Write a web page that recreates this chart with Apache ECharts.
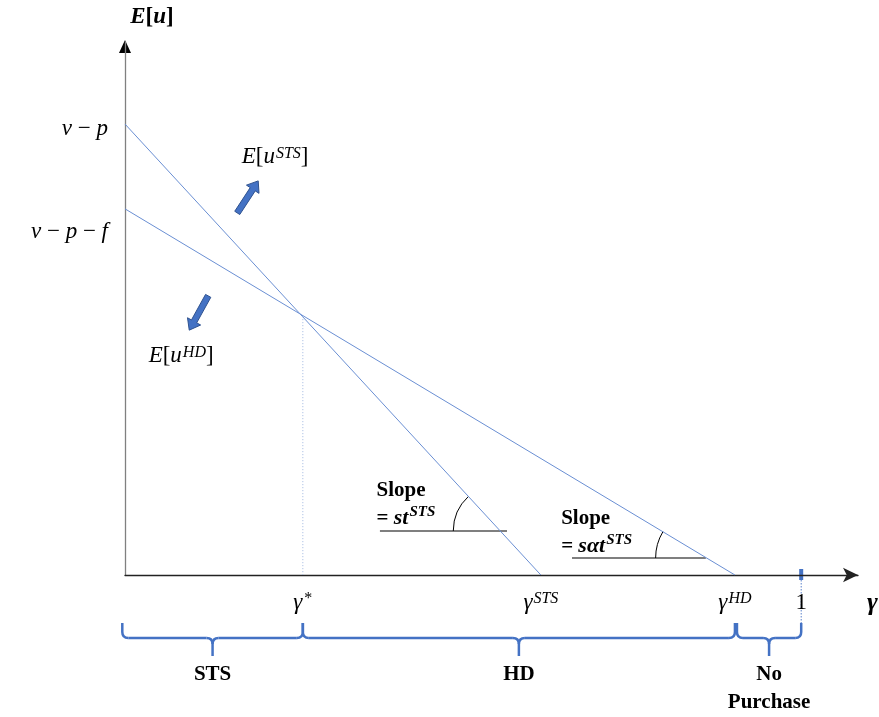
<!DOCTYPE html>
<html><head><meta charset="utf-8">
<script src="https://cdn.jsdelivr.net/npm/echarts@6/dist/echarts.min.js"></script>
<style>html,body{margin:0;padding:0;background:#fff}#c{width:879px;height:717px}</style>
</head><body><div id="c"></div>
<script>
// ---- data (gamma on x, expected utility on y; v-p normalised to 1) ----
const xTickValues = [0.263, 0.615, 0.902, 1];
const xTickLabels = ['{i|γ}{sn|*}', '{i|γ}{s|STS}', '{i|γ}{s|HD}', '{n|1}'];
const yTickValues = [0.812, 1];
const yTickLabels = ['{il|v}{nl| − }{il|p}{nl| − }{il|f}', '{iu|v}{nu| − }{iu|p}'];
const stsLine = [[0, 1], [0.615, 0]];
const hdLine = [[0, 0.812], [0.902, 0]];
const gammaStarDrop = [[0.263, 0.574], [0.263, 0]];
const regionNames = ['STS', 'HD', 'No\nPurchase'];
const regionBounds = [[-0.004, 0.263], [0.263, 0.902], [0.905, 1]];
const seriesLabels = ['{i|E}{n|[}{i|u}{s|STS}{n|]}', '{i|E}{n|[}{i|u}{s|HD}{n|]}'];
const seriesLabelPos = [[0.222, 0.927], [0.083, 0.486]];
const arrowsData = [[[0.166, 0.803], [0.197, 0.874]], [[0.123, 0.619], [0.095, 0.543]]];
const slopeTexts = ['{b|Slope}\n{b|= }{bi|st}{bs|STS}', '{b|Slope}\n{b|= }{bi|sαt}{bs|STS}'];
const slopeTextPos = [[0.372, 0.157], [0.645, 0.095]];
const slopeBaseX = [[0.377, 0.565], [0.661, 0.859]];
const slopeBaseY = [0.0976, 0.0377];
const slopeArcR = [47, 51];

const SERIF = "'Liberation Serif','DejaVu Serif',serif";
const BLUE = '#4472C4';
const LINE = '#6a8fd3';
const it = {fontFamily: SERIF, fontStyle: 'italic', fontSize: 23, color: '#000'};
const up = {fontFamily: SERIF, fontSize: 23, color: '#000'};
const mathRich = {
  i: it, n: up,
  il: Object.assign({}, it, {padding: [46, 0, 0, 0]}),
  nl: Object.assign({}, up, {padding: [46, 0, 0, 0]}),
  iu: Object.assign({}, it, {padding: [10, 0, 0, 0]}),
  nu: Object.assign({}, up, {padding: [10, 0, 0, 0]}),
  s: {fontFamily: SERIF, fontStyle: 'italic', fontSize: 16, color: '#000', verticalAlign: 'top', padding: [0, 0, 6, 1]},
  sn: {fontFamily: SERIF, fontSize: 16, color: '#000', verticalAlign: 'top', padding: [0, 0, 6, 2]}
};
const boldRich = {
  b: {fontFamily: SERIF, fontWeight: 'bold', fontSize: 21, color: '#000', lineHeight: 28},
  bi: {fontFamily: SERIF, fontWeight: 'bold', fontStyle: 'italic', fontSize: 22, color: '#000', lineHeight: 28},
  bs: {fontFamily: SERIF, fontWeight: 'bold', fontStyle: 'italic', fontSize: 15, color: '#000', verticalAlign: 'top', padding: [0, 0, 8, 1]}
};

function pick(vals, labels, v) {
  const k = vals.findIndex(t => Math.abs(t - v) < 1e-6);
  return k < 0 ? '' : labels[k];
}

const chart = echarts.init(document.getElementById('c'), null, {renderer: 'canvas'});
chart.setOption({
  animation: false,
  backgroundColor: '#fff',
  grid: {left: 125, right: 21, top: 42, bottom: 142, containLabel: false, outerBoundsMode: 'none'},
  xAxis: {
    type: 'value', min: 0, max: 1.084,
    splitLine: {show: false}, axisTick: {show: false},
    axisLine: {onZero: false, lineStyle: {color: '#222', width: 1.3}, symbol: ['none', 'arrow'], symbolSize: [11, 15]},
    axisLabel: {customValues: xTickValues, margin: 16, formatter: v => pick(xTickValues, xTickLabels, v), rich: mathRich}
  },
  yAxis: {
    type: 'value', min: 0, max: 1.182,
    splitLine: {show: false}, axisTick: {show: false},
    axisLine: {onZero: false, lineStyle: {color: '#808080', width: 1.3}, symbol: ['none', 'none']},
    axisLabel: {customValues: yTickValues, margin: 17, formatter: v => pick(yTickValues, yTickLabels, v), rich: mathRich}
  },
  series: [
    {type: 'line', data: stsLine, symbol: 'none', lineStyle: {color: LINE, width: 1}, silent: true},
    {type: 'line', data: hdLine, symbol: 'none', lineStyle: {color: LINE, width: 1}, silent: true},
    {type: 'line', data: gammaStarDrop, symbol: 'none', lineStyle: {color: '#9fb6e0', width: 1, type: [1, 2]}, silent: true}
  ]
});

function px(p) { return chart.convertToPixel({gridIndex: 0}, p); }

function arrowShape(a, b) {
  const dx = b[0] - a[0], dy = b[1] - a[1];
  const L = Math.hypot(dx, dy), ux = dx / L, uy = dy / L, nx = -uy, ny = ux;
  const hl = 10, sw = 3, hw = 7.5;
  const bx = b[0] - ux * hl, by = b[1] - uy * hl;
  return [
    [a[0] + nx * sw, a[1] + ny * sw], [bx + nx * sw, by + ny * sw], [bx + nx * hw, by + ny * hw],
    b, [bx - nx * hw, by - ny * hw], [bx - nx * sw, by - ny * sw], [a[0] - nx * sw, a[1] - ny * sw]
  ];
}

const g = [];
const origin = px([0, 0]);
const axisY = origin[1];
const yTop = px([0, 1.182]);

// y axis arrow head (black)
g.push({type: 'polygon', shape: {points: [[yTop[0], yTop[1] - 2], [yTop[0] - 6, yTop[1] + 11], [yTop[0] + 6, yTop[1] + 11]]}, style: {fill: '#000'}});

// axis titles
g.push({type: 'text', x: 152, y: 17, style: {text: '{bi|E}{b|[}{bi|u}{b|]}', rich: {
  b: {fontFamily: SERIF, fontWeight: 'bold', fontSize: 23, color: '#000'},
  bi: {fontFamily: SERIF, fontWeight: 'bold', fontStyle: 'italic', fontSize: 23, color: '#000'}}, align: 'center', verticalAlign: 'middle'}});
g.push({type: 'text', x: 867, y: axisY + 28, style: {text: '{bi|γ}', rich: {bi: {fontFamily: SERIF, fontWeight: 'bold', fontStyle: 'italic', fontSize: 26, color: '#000'}}, align: 'left', verticalAlign: 'middle'}});

// series labels + arrows
seriesLabels.forEach((t, k) => {
  const p = px(seriesLabelPos[k]);
  g.push({type: 'text', x: p[0], y: p[1], style: {text: t, rich: mathRich, align: 'center', verticalAlign: 'middle'}});
  const a = px(arrowsData[k][0]), b = px(arrowsData[k][1]);
  g.push({type: 'polygon', shape: {points: arrowShape(a, b)}, style: {fill: BLUE, stroke: '#2F528F', lineWidth: 1}});
});

// slope annotations
const lines = [stsLine, hdLine];
slopeTexts.forEach((t, k) => {
  const tp = px(slopeTextPos[k]);
  g.push({type: 'text', x: tp[0], y: tp[1], style: {text: t, rich: boldRich, align: 'left', verticalAlign: 'middle'}});
  const l = px([slopeBaseX[k][0], slopeBaseY[k]]), r = px([slopeBaseX[k][1], slopeBaseY[k]]);
  g.push({type: 'line', shape: {x1: l[0], y1: l[1], x2: r[0], y2: r[1]}, style: {stroke: '#000', lineWidth: 1.2}});
  const ln = lines[k];
  const xi = ln[1][0] * (1 - slopeBaseY[k] / ln[0][1]);
  const c = px([xi, slopeBaseY[k]]), s = px(ln[0]);
  let ang = Math.atan2(s[1] - c[1], s[0] - c[0]);
  if (ang < 0) ang += Math.PI * 2;
  g.push({type: 'arc', shape: {cx: c[0], cy: c[1], r: slopeArcR[k], startAngle: Math.PI, endAngle: ang, clockwise: true}, style: {stroke: '#000', fill: null, lineWidth: 1}});
});

// marker at 1
const one = px([1, 0]);
g.push({type: 'rect', shape: {x: one[0] - 2, y: axisY - 6, width: 4, height: 11}, style: {fill: BLUE}});
g.push({type: 'line', shape: {x1: one[0], y1: axisY + 5, x2: one[0], y2: axisY + 48}, style: {stroke: '#5b82cc', lineWidth: 1, lineDash: [1.5, 1.5]}});

// braces + region names
const bs = {stroke: BLUE, fill: null, lineWidth: 2.5};
regionBounds.forEach((bd, k) => {
  const x1 = px([bd[0], 0])[0], x2 = px([bd[1], 0])[0], m = (x1 + x2) / 2;
  const top = axisY + 48, h = axisY + 63, tip = axisY + 81, r = 6;
  g.push({type: 'line', shape: {x1: x1, y1: top, x2: x1, y2: h - r}, style: bs});
  g.push({type: 'bezierCurve', shape: {x1: x1, y1: h - r, cpx1: x1, cpy1: h, x2: x1 + r, y2: h}, style: bs});
  g.push({type: 'line', shape: {x1: x1 + r, y1: h, x2: m - r, y2: h}, style: bs});
  g.push({type: 'bezierCurve', shape: {x1: m - r, y1: h, cpx1: m, cpy1: h, x2: m, y2: h + r}, style: bs});
  g.push({type: 'bezierCurve', shape: {x1: m + r, y1: h, cpx1: m, cpy1: h, x2: m, y2: h + r}, style: bs});
  g.push({type: 'line', shape: {x1: m, y1: h + r, x2: m, y2: tip}, style: bs});
  g.push({type: 'line', shape: {x1: m + r, y1: h, x2: x2 - r, y2: h}, style: bs});
  g.push({type: 'bezierCurve', shape: {x1: x2 - r, y1: h, cpx1: x2, cpy1: h, x2: x2, y2: h - r}, style: bs});
  g.push({type: 'line', shape: {x1: x2, y1: h - r, x2: x2, y2: top}, style: bs});
  g.push({type: 'text', x: m, y: axisY + 86, style: {text: regionNames[k], fontFamily: SERIF, fontWeight: 'bold', fontSize: 21, lineHeight: 28, fill: '#000', align: 'center', verticalAlign: 'top'}});
});

chart.setOption({graphic: g});
</script>
</body></html>
